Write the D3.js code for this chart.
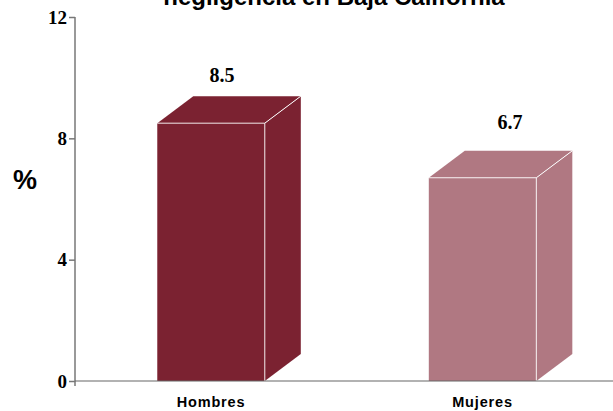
<!DOCTYPE html>
<html><head><meta charset="utf-8">
<script src="https://cdn.jsdelivr.net/npm/d3@7"></script>
<style>html,body{margin:0;padding:0;background:#fff}svg{display:block}</style>
</head><body><svg id="c" width="613" height="411"></svg>
<script>
const categories = ["Hombres", "Mujeres"];
const values = [8.5, 6.7];
const colors = ["#7b2231", "#b07882"];
const yTicks = [0, 4, 8, 12];
const titleText = "negligencia en Baja California";

const W = 613, H = 411, depthX = 36, depthY = 27;
const labelDx = [11, 27.5], labelDy = [41, 49];
const y = d3.scaleLinear().domain([0, 12]).range([381, 17]);
const x = d3.scaleBand().domain(categories).range([75, 618.6]).paddingInner(0.604).paddingOuter(0.303);
const svg = d3.select("#c");
const sans = "'Liberation Sans',Arial,sans-serif", serif = "'Liberation Serif',serif";

svg.append("text").attr("x", 334).attr("y", 4.5).attr("text-anchor", "middle")
  .attr("font-family", sans).attr("font-weight", "bold").attr("font-size", 24).text(titleText);

const bars = svg.selectAll("g.bar").data(categories).join("g").attr("class", "bar");
bars.each(function (c, i) {
  const g = d3.select(this), x0 = x(c), x1 = x0 + x.bandwidth(), yt = y(values[i]), yb = y(0);
  const col = colors[i];
  g.append("path").attr("fill", col)
    .attr("d", d3.line()([[x1, yt], [x1 + depthX, yt - depthY], [x1 + depthX, yb - depthY], [x1, yb]]));
  g.append("path").attr("fill", col)
    .attr("d", d3.line()([[x0, yt], [x0 + depthX, yt - depthY], [x1 + depthX, yt - depthY], [x1, yt]]));
  g.append("rect").attr("x", x0).attr("y", yt).attr("width", x.bandwidth()).attr("height", yb - yt).attr("fill", col);
  g.append("path").attr("fill", "none").attr("stroke", "#fff").attr("stroke-opacity", .85).attr("stroke-width", 1)
    .attr("d", d3.line()([[x0, yt], [x1, yt], [x1, yb]]));
  g.append("path").attr("fill", "none").attr("stroke", "#fff").attr("stroke-width", 1)
    .attr("d", d3.line()([[x1, yt], [x1 + depthX, yt - depthY]]));
  g.append("text").attr("x", x0 + x.bandwidth() / 2 + labelDx[i]).attr("y", yt - labelDy[i])
    .attr("text-anchor", "middle").attr("font-family", serif).attr("font-weight", "bold").attr("font-size", 20)
    .text(values[i]);
  g.append("text").attr("x", x0 + x.bandwidth() / 2).attr("y", 406.5)
    .attr("text-anchor", "middle").attr("font-family", sans).attr("font-weight", "bold").attr("font-size", 14.5)
    .attr("letter-spacing", 0.85).text(c);
});

const axis = svg.append("g").attr("transform", "translate(75,0)")
  .call(d3.axisLeft(y).tickValues(yTicks).tickSize(6).tickPadding(2).tickFormat(d3.format("d")));
axis.selectAll("path,line").attr("stroke", "#777").attr("stroke-width", 1.5);
axis.select(".domain").attr("d", `M0,${y(12)}V${y(0) + 5}`);
axis.selectAll("text").attr("font-family", serif).attr("font-weight", "bold").attr("font-size", 19).attr("fill", "#000");

svg.append("line").attr("x1", 75).attr("x2", W).attr("y1", y(0)).attr("y2", y(0)).attr("stroke", "#666").attr("stroke-width", 1.2);
svg.append("text").attr("x", 25).attr("y", 189).attr("text-anchor", "middle")
  .attr("font-family", sans).attr("font-weight", "bold").attr("font-size", 27).text("%");
</script></body></html>
